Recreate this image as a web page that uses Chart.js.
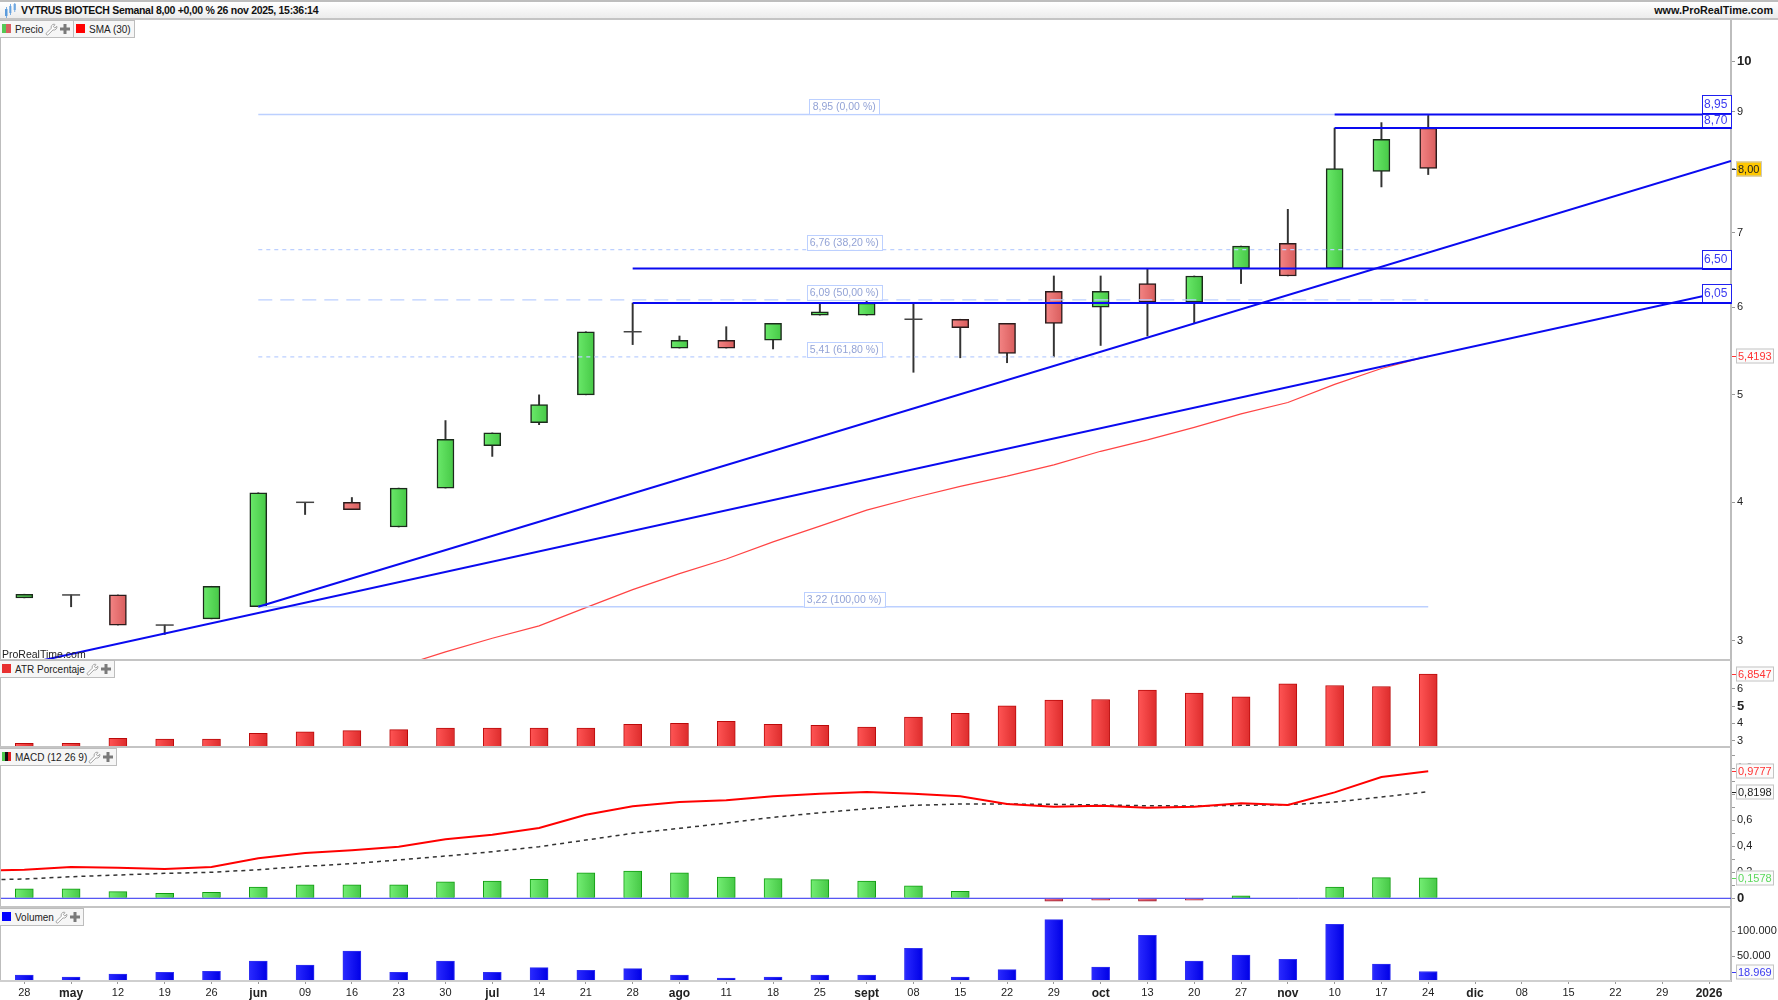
<!DOCTYPE html>
<html>
<head>
<meta charset="utf-8">
<title>VYTRUS BIOTECH</title>
<script src="https://cdn.jsdelivr.net/npm/chart.js@4/dist/chart.umd.min.js"></script>
<style>
    html, body { margin: 0; padding: 0; background: #fff; overflow: hidden; }
    body { width: 1778px; height: 1000px; position: relative; font-family: "Liberation Sans", Arial, sans-serif; color: #111; }
    canvas { position: absolute; left: 1px; }
    .titlebar { position: absolute; left: 0; top: 0; width: 1778px; height: 20px; box-sizing: border-box; border-top: 2px solid #bdbdbd; border-bottom: 2px solid #c4c4c4; background: linear-gradient(#fff, #ececec); z-index: 5; }
    .titlebar svg { position: absolute; left: 4px; top: 1px; }
    .title { position: absolute; left: 21px; top: 2px; font-size: 10.5px; letter-spacing: -0.3px; font-weight: bold; line-height: 13px; white-space: nowrap; }
    .site { position: absolute; right: 5px; top: 2px; font-size: 10.8px; font-weight: bold; line-height: 13px; }
    .sep { position: absolute; left: 0; width: 1731px; height: 2px; background: #c4c4c4; z-index: 4; }
    .leftline { position: absolute; left: 0; top: 18px; width: 1px; height: 963px; background: #bdbdbd; z-index: 4; }
    .chip { position: absolute; height: 18px; box-sizing: border-box; border: 1px solid #bdbdbd; border-left: 0; background: #f6f6f6; font-size: 10px; line-height: 17px; color: #222; white-space: nowrap; z-index: 6; }
    .chip .sw { position: absolute; left: 2px; top: 3px; width: 9px; height: 9px; }
    .chip .tx { position: absolute; left: 15px; top: 0; }
    .chip svg { position: absolute; top: 2px; }
    .wm { position: absolute; left: 2px; top: 648px; font-size: 10.5px; line-height: 13px; color: #222; z-index: 4; }
</style>
</head>
<body>
<div class="titlebar">
    <svg width="14" height="15" viewBox="0 0 14 15"><g fill="#5b9bdc"><rect x="1" y="6" width="2.5" height="7"/><rect x="5" y="3" width="2.5" height="7" fill="#8fbce8"/><rect x="9.5" y="1" width="2.5" height="6" fill="#8fbce8"/><rect x="2" y="4" width="0.8" height="11"/><rect x="6" y="1" width="0.8" height="11"/><rect x="10.4" y="0" width="0.8" height="9"/></g></svg>
    <div class="title">VYTRUS BIOTECH Semanal 8,00 +0,00 % 26 nov 2025, 15:36:14</div>
    <div class="site">www.ProRealTime.com</div>
</div>
<div class="leftline"></div>
<div class="sep" style="top:659px"></div>
<div class="sep" style="top:746px"></div>
<div class="sep" style="top:906px"></div>
<div class="sep" style="top:980px;background:#cfcfcf"></div>
<div class="wm">ProRealTime.com</div>
<canvas id="priceChart" width="1777" height="640" style="top:20px"></canvas>
<canvas id="atrChart" width="1777" height="87" style="top:660px"></canvas>
<canvas id="macdChart" width="1777" height="160" style="top:747px"></canvas>
<canvas id="volumeChart" width="1777" height="93" style="top:907px"></canvas>

<script>
// semanas, de 28 abr 2025 hasta 2026 (las ultimas 6 van sin datos)
const weekLabels = ['28', 'may', '12', '19', '26', 'jun', '09', '16', '23', '30', 'jul', '14', '21', '28', 'ago', '11', '18', '25', 'sept', '08', '15', '22', '29', 'oct', '13', '20', '27', 'nov', '10', '17', '24', 'dic', '08', '15', '22', '29', '2026'];

const candleOpen = [3.28, 3.30, 3.30, 3.10, 3.14, 3.22, 4.00, 4.00, 3.80, 4.12, 4.50, 4.72, 5.00, 5.70, 5.51, 5.60, 5.60, 5.90, 5.90, 5.85, 5.85, 5.80, 6.20, 6.00, 6.30, 6.06, 6.50, 6.85, 6.50, 7.95, 8.70];
const candleClose = [3.305, 3.30, 3.10, 3.10, 3.36, 4.08, 4.00, 3.94, 4.12, 4.56, 4.62, 4.90, 5.70, 5.70, 5.60, 5.51, 5.80, 5.94, 6.05, 5.85, 5.75, 5.45, 5.80, 6.20, 6.06, 6.40, 6.81, 6.40, 8.00, 8.50, 8.00];
const candleHigh = [3.305, 3.30, 3.30, 3.10, 3.36, 4.08, 4.00, 4.04, 4.12, 4.74, 4.62, 5.00, 5.70, 6.05, 5.65, 5.76, 5.80, 6.05, 6.08, 6.05, 5.85, 5.80, 6.40, 6.40, 6.50, 6.40, 6.81, 7.35, 8.70, 8.80, 8.95];
const candleLow = [3.28, 3.22, 3.10, 3.04, 3.14, 3.22, 3.90, 3.94, 3.80, 4.12, 4.40, 4.70, 5.00, 5.55, 5.51, 5.51, 5.50, 5.90, 5.90, 5.24, 5.40, 5.345, 5.41, 5.54, 5.65, 5.80, 6.30, 6.40, 6.50, 7.70, 7.90];

// SMA 30 arranca en la semana 8
const smaStart = 8;
const smaValues = [2.843, 2.932, 3.016, 3.095, 3.214, 3.337, 3.449, 3.556, 3.684, 3.807, 3.935, 4.038, 4.134, 4.223, 4.324, 4.447, 4.553, 4.673, 4.807, 4.921, 5.110, 5.281, 5.4193];

const priceTicks = [3, 4, 5, 6, 7, 8, 9, 10];
const levelValues = [8.95, 8.70, 6.50, 6.05];
const levelStart = [28, 28, 13, 13];
const fibValues = [8.95, 6.76, 6.09, 5.41, 3.22];
const fibLabels = ['8,95 (0,00 %)', '6,76 (38,20 %)', '6,09 (50,00 %)', '5,41 (61,80 %)', '3,22 (100,00 %)'];
const fibDashes = [[], [4, 4], [14, 8], [4, 4], []];
const trendA = [{ x: 5, y: 3.22 }, { x: 36.47, y: 8.125 }];
const trendB = [{ x: 0.42, y: 2.883 }, { x: 36.47, y: 6.216 }];

const atrValues = [2.85, 2.85, 3.14, 3.10, 3.10, 3.43, 3.52, 3.58, 3.64, 3.73, 3.73, 3.73, 3.73, 3.95, 4.00, 4.12, 3.95, 3.89, 3.79, 4.37, 4.58, 5.02, 5.35, 5.39, 5.93, 5.76, 5.54, 6.30, 6.20, 6.14, 6.8547];
const atrTicks = [3, 4, 5, 6];

// las dos lineas llevan una semana extra a la izquierda del eje
const macdLine = [0.210, 0.220, 0.241, 0.235, 0.225, 0.241, 0.308, 0.348, 0.369, 0.397, 0.454, 0.489, 0.541, 0.643, 0.708, 0.741, 0.754, 0.785, 0.805, 0.818, 0.805, 0.785, 0.725, 0.705, 0.712, 0.697, 0.705, 0.731, 0.718, 0.815, 0.933, 0.9777];
const macdSignal = [0.141, 0.148, 0.166, 0.179, 0.192, 0.200, 0.220, 0.246, 0.266, 0.295, 0.325, 0.358, 0.397, 0.448, 0.500, 0.538, 0.579, 0.623, 0.658, 0.689, 0.715, 0.725, 0.725, 0.723, 0.718, 0.712, 0.710, 0.715, 0.720, 0.741, 0.779, 0.8198];
const macdHist = [0.072, 0.072, 0.051, 0.038, 0.046, 0.087, 0.103, 0.103, 0.103, 0.126, 0.133, 0.146, 0.195, 0.210, 0.195, 0.164, 0.151, 0.144, 0.133, 0.095, 0.054, 0, -0.023, -0.015, -0.023, -0.015, 0.018, 0, 0.087, 0.159, 0.1578];
const macdTicks = [0, 0.1, 0.2, 0.3, 0.4, 0.5, 0.6, 0.7, 0.8, 0.9, 1, 1.1];
const macdLabeled = [0, 0.2, 0.4, 0.6, 0.8, 1];

const volumeValues = [12000, 8000, 14000, 17300, 19300, 40000, 32000, 60000, 17300, 40000, 17300, 26700, 21300, 24700, 12000, 6000, 8000, 12000, 12000, 65300, 8000, 22700, 122700, 28000, 91300, 40000, 52000, 43300, 113300, 34000, 18969];
const volumeTicks = [50000, 100000];

const FONT = '"Liberation Sans", Arial, sans-serif';
const X_MIN = -0.498, X_MAX = 36.47;
const AXIS_W = 47;

const comma = (v, d) => v.toFixed(d).replace('.', ',');
const indexed = (arr, from) => arr.map((y, i) => ({ x: i + (from || 0), y }));

// relleno con brillo de izquierda a derecha, como las barras de ProRealTime
function barGradient(light, dark, width) {
    return (ctx) => {
        if (!ctx.parsed) return light;
        const xc = ctx.chart.scales.x.getPixelForValue(ctx.parsed.x);
        if (!Number.isFinite(xc)) return light;
        const g = ctx.chart.ctx.createLinearGradient(xc - width / 2, 0, xc + width / 2, 0);
        g.addColorStop(0, light);
        g.addColorStop(1, dark);
        return g;
    };
}

// el area de dibujo tiene que llegar justo a los bordes del panel
function noScalePadding(scale) {
    scale.paddingTop = 0;
    scale.paddingBottom = 0;
    scale.paddingLeft = 0;
    scale.paddingRight = 0;
}

// etiquetas de valor a la derecha del eje
const tagPlugin = {
    id: 'tags',
    afterDraw(chart, args, opts) {
        const { ctx, chartArea, scales } = chart;
        ctx.save();
        ctx.font = '11px ' + FONT;
        ctx.textBaseline = 'middle';
        (opts.items || []).forEach((t) => {
            const y = Math.round(scales.y.getPixelForValue(t.value));
            const left = chartArea.right + 5;
            const w = Math.ceil(ctx.measureText(t.text).width) + 4;
            ctx.strokeStyle = t.color;
            ctx.lineWidth = 1;
            ctx.beginPath();
            ctx.moveTo(chartArea.right + 1, y + 0.5);
            ctx.lineTo(left, y + 0.5);
            ctx.stroke();
            ctx.fillStyle = t.bg || '#fbfbfb';
            ctx.fillRect(left, y - 7.5, w, 15);
            ctx.strokeStyle = t.border || '#c4c4c4';
            ctx.strokeRect(left + 0.5, y - 7, w - 1, 14);
            ctx.fillStyle = t.color;
            ctx.textAlign = 'left';
            ctx.fillText(t.text, left + 2, y + 0.5);
        });
        ctx.restore();
    }
};

// cajas de Fibonacci y de niveles horizontales
const boxPlugin = {
    id: 'priceBoxes',
    afterDraw(chart) {
        const { ctx, chartArea, scales } = chart;
        ctx.save();
        ctx.textBaseline = 'middle';
        ctx.lineWidth = 1;
        ctx.font = '10.5px ' + FONT;
        fibValues.forEach((v, i) => {
            const y = Math.round(scales.y.getPixelForValue(v));
            const w = Math.ceil(ctx.measureText(fibLabels[i]).width) + 6;
            const xc = scales.x.getPixelForValue(17.52);
            ctx.fillStyle = 'rgba(255,255,255,0.85)';
            ctx.fillRect(xc - w / 2, y - 15, w, 15);
            ctx.strokeStyle = '#bcd0ff';
            ctx.strokeRect(Math.round(xc - w / 2) + 0.5, y - 15 + 0.5, w, 15);
            ctx.fillStyle = '#93a3d6';
            ctx.textAlign = 'center';
            ctx.fillText(fibLabels[i], xc, y - 7);
        });
        ctx.font = '12px ' + FONT;
        levelValues.forEach((v) => {
            const y = Math.round(scales.y.getPixelForValue(v));
            const h = v === 8.70 ? 14 : 19;
            ctx.fillStyle = '#fff';
            ctx.fillRect(chartArea.right - 29, y - h, 29, h);
            ctx.lineWidth = 1;
            ctx.strokeStyle = '#2020f0';
            ctx.strokeRect(chartArea.right - 29 + 0.5, y - h + 0.5, 29, h);
            ctx.lineWidth = 2;
            ctx.strokeStyle = '#0a0af0';
            ctx.beginPath();
            ctx.moveTo(chartArea.right - 29, y);
            ctx.lineTo(chartArea.right, y);
            ctx.stroke();
            ctx.fillStyle = '#3a3af0';
            ctx.textAlign = 'left';
            ctx.fillText(comma(v, 2), chartArea.right - 27, y - h / 2);
        });
        ctx.restore();
    }
};

function xAxis(display) {
    return {
        type: 'linear',
        display,
        offset: false,
        min: X_MIN,
        max: X_MAX,
        afterBuildTicks: (scale) => { scale.ticks = weekLabels.map((_, i) => ({ value: i })); },
        afterFit: (scale) => { scale.height = display ? 19 : 0; noScalePadding(scale); },
        grid: { display, offset: false, drawOnChartArea: false, tickLength: 3, tickColor: '#999' },
        border: { display: false },
        ticks: {
            autoSkip: false,
            maxRotation: 0,
            minRotation: 0,
            padding: 2,
            color: '#222',
            callback: (value) => weekLabels[value],
            font: (ctx) => {
                const lab = weekLabels[ctx.index] || '';
                const bold = /[a-z]/.test(lab) || lab === '2026';
                return { family: FONT, size: bold ? 12 : 11, weight: bold ? 'bold' : 'normal' };
            }
        }
    };
}

function yAxis(min, max, tickValues, label, boldValue) {
    return {
        position: 'right',
        min,
        max,
        afterFit: (scale) => { scale.width = AXIS_W; noScalePadding(scale); },
        afterBuildTicks: (scale) => { scale.ticks = tickValues.map((value) => ({ value })); },
        grid: { drawOnChartArea: false, tickLength: 4, tickColor: '#999' },
        border: { color: '#bdbdbd', width: 2 },
        ticks: {
            autoSkip: false,
            padding: 2,
            color: '#222',
            callback: label,
            font: (ctx) => {
                const t = ctx.tick;
                const bold = t && t.value === boldValue;
                return { family: FONT, size: bold ? 13 : 11, weight: bold ? 'bold' : 'normal' };
            }
        }
    };
}

function baseOptions(scales, tags) {
    return {
        responsive: false,
        animation: false,
        events: [],
        layout: { padding: 0, autoPadding: false },
        plugins: {
            legend: { display: false },
            title: { display: false },
            tooltip: { enabled: false },
            tags: { items: tags }
        },
        scales
    };
}

function indicatorBars(data, light, dark, border, order) {
    return {
        data,
        grouped: false,
        barThickness: 18,
        backgroundColor: barGradient(light, dark, 18),
        borderColor: border,
        borderWidth: 1,
        borderSkipped: 'bottom',
        order: order || 1
    };
}

function createPriceChart(canvas) {
    const ids = candleOpen.map((_, i) => i);
    const bodies = ids.filter((i) => candleOpen[i] !== candleClose[i]);
    const dojis = ids.filter((i) => candleOpen[i] === candleClose[i]);
    const isUp = (i) => candleClose[i] > candleOpen[i];

    const datasets = [{
        data: ids.map((i) => ({ x: i, y: [candleLow[i], candleHigh[i]] })),
        grouped: false,
        barThickness: 1.3,
        backgroundColor: '#333',
        borderWidth: 0,
        order: 6
    }, {
        data: bodies.filter(isUp).map((i) => ({ x: i, y: [candleOpen[i], candleClose[i]] })),
        grouped: false,
        barThickness: 17,
        backgroundColor: barGradient('#6ae96a', '#46c846', 17),
        borderColor: '#1b2b1b',
        borderWidth: 1.5,
        borderSkipped: false,
        order: 5
    }, {
        data: bodies.filter((i) => !isUp(i)).map((i) => ({ x: i, y: [candleOpen[i], candleClose[i]] })),
        grouped: false,
        barThickness: 17,
        backgroundColor: barGradient('#f48585', '#d85c5c', 17),
        borderColor: '#2b1b1b',
        borderWidth: 1.5,
        borderSkipped: false,
        order: 5
    }, {
        type: 'line',
        data: dojis.map((i) => ({ x: i, y: candleClose[i] })),
        showLine: false,
        pointStyle: 'line',
        pointRadius: 9,
        pointBorderColor: '#444',
        pointBorderWidth: 1.5,
        order: 5
    }, {
        type: 'line',
        data: indexed(smaValues, smaStart),
        borderColor: '#f44',
        borderWidth: 1.2,
        pointRadius: 0,
        tension: 0,
        order: 4
    }];

    fibValues.forEach((v, i) => {
        datasets.push({
            type: 'line',
            data: [{ x: 5, y: v }, { x: 30, y: v }],
            borderColor: '#bcd0ff',
            borderWidth: i === 0 || i === 4 ? 1.5 : 1.2,
            borderDash: fibDashes[i],
            pointRadius: 0,
            order: 3
        });
    });
    levelValues.forEach((v, i) => {
        datasets.push({
            type: 'line',
            data: [{ x: levelStart[i], y: v }, { x: X_MAX, y: v }],
            borderColor: '#0a0af0',
            borderWidth: 2,
            pointRadius: 0,
            order: 2
        });
    });
    [trendA, trendB].forEach((pts) => {
        datasets.push({
            type: 'line',
            data: pts,
            borderColor: '#0a0af0',
            borderWidth: 2,
            pointRadius: 0,
            order: 2
        });
    });

    const options = baseOptions({
        x: xAxis(false),
        y: Object.assign(yAxis(2.883, 10.89, priceTicks, (v) => String(v), 10), { type: 'logarithmic' })
    }, [
        { value: 8.00, text: '8,00', color: '#222', bg: '#ffc800', border: '#c8c8c8' },
        { value: 5.4193, text: '5,4193', color: '#f33' }
    ]);
    new Chart(canvas, { type: 'bar', data: { datasets }, options, plugins: [tagPlugin, boxPlugin] });
}

function createAtrChart(canvas) {
    const options = baseOptions({
        x: xAxis(false),
        y: yAxis(2.636, 7.676, atrTicks, (v) => String(v), 5)
    }, [{ value: 6.8547, text: '6,8547', color: '#f33' }]);
    new Chart(canvas, {
        type: 'bar',
        data: { datasets: [indicatorBars(indexed(atrValues), '#ff5555', '#dd2c2c', '#bb0a0a')] },
        options,
        plugins: [tagPlugin]
    });
}

function createMacdChart(canvas) {
    const up = [], down = [];
    macdHist.forEach((v, i) => (v >= 0 ? up : down).push({ x: i, y: v }));
    const downBars = indicatorBars(down, '#f07080', '#d05060', '#a02030');
    downBars.borderSkipped = 'start';
    const datasets = [
        indicatorBars(up, '#74ee74', '#46c846', '#119c11', 5),
        downBars,
        { type: 'line', data: [{ x: X_MIN, y: 0 }, { x: X_MAX, y: 0 }], borderColor: '#2a2af0', borderWidth: 1, pointRadius: 0, order: 1 },
        { type: 'line', data: indexed(macdSignal, -1), borderColor: '#333', borderWidth: 1.5, borderDash: [4, 4], pointRadius: 0, order: 3 },
        { type: 'line', data: indexed(macdLine, -1), borderColor: '#f00', borderWidth: 2, pointRadius: 0, order: 2 }
    ];
    const options = baseOptions({
        x: xAxis(false),
        y: yAxis(-0.067, 1.164, macdTicks, (v) => (macdLabeled.includes(v) ? (v === 0 ? '0' : comma(v, 1)) : ''), 0)
    }, [
        { value: 0.9777, text: '0,9777', color: '#f33' },
        { value: 0.8198, text: '0,8198', color: '#222' },
        { value: 0.1578, text: '0,1578', color: '#5cd85c' }
    ]);
    new Chart(canvas, { type: 'bar', data: { datasets }, options, plugins: [tagPlugin] });
}

function createVolumeChart(canvas) {
    const options = baseOptions({
        x: xAxis(true),
        y: yAxis(0, 148000, volumeTicks, (v) => v.toLocaleString('de-DE'))
    }, [{ value: 18969, text: '18.969', color: '#3a3af0' }]);
    new Chart(canvas, {
        type: 'bar',
        data: { datasets: [indicatorBars(indexed(volumeValues), '#2a2aff', '#0000e6', '#3030f0')] },
        options,
        plugins: [tagPlugin]
    });
}

// pestañas de cada panel
const WRENCH = '<path d="M9 1.2a3 3 0 0 0-2.7 4L1.5 10a1.2 1.2 0 0 0 1.7 1.7L8 6.9a3 3 0 0 0 3.8-3.6L9.9 5 8.3 3.6 10 1.6A3 3 0 0 0 9 1.2Z" fill="#fff" stroke="#999" stroke-width="0.9"/>';
const PLUS = '<path d="M3.5 0h3v3.5H10v3H6.5V10h-3V6.5H0v-3h3.5Z" fill="#7a7a7a"/>';

function addChip(top, width, swatch, text, withTools) {
    const chip = document.createElement('div');
    chip.className = 'chip';
    chip.style.top = top + 'px';
    chip.style.left = '0';
    chip.style.width = width + 'px';
    let tools = '';
    if (withTools) {
        tools = `<svg width="13" height="13" viewBox="0 0 13 13" style="left:${width - 29}px">${WRENCH}</svg>` +
            `<svg width="10" height="10" viewBox="0 0 10 10" style="left:${width - 14}px;top:3px">${PLUS}</svg>`;
    }
    chip.innerHTML = `<span class="sw" style="background:${swatch}"></span><span class="tx">${text}</span>${tools}`;
    document.body.appendChild(chip);
    return chip;
}

addChip(20, 74, 'linear-gradient(90deg,#55c855 50%,#d86060 50%)', 'Precio', true);
const smaChip = addChip(20, 61, '#f00', 'SMA (30)', false);
smaChip.style.left = '74px';
addChip(660, 115, '#e83030', 'ATR Porcentaje', true);
addChip(748, 117, 'linear-gradient(90deg,#4cc84c 33%,#111 33% 66%,#e02020 66%)', 'MACD (12 26 9)', true);
addChip(908, 84, '#00f', 'Volumen', true);

createPriceChart(document.getElementById('priceChart'));
createAtrChart(document.getElementById('atrChart'));
createMacdChart(document.getElementById('macdChart'));
createVolumeChart(document.getElementById('volumeChart'));
</script>
</body>
</html>
